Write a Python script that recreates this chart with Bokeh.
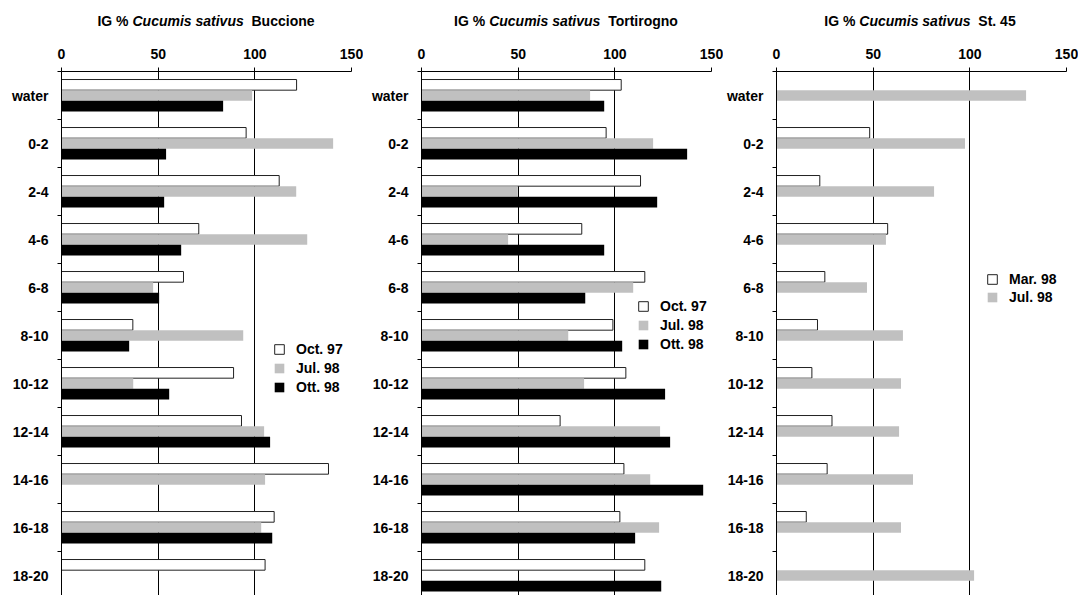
from bokeh.plotting import figure
from bokeh.models import ColumnDataSource, Range1d, FixedTicker, Legend, LegendItem, Div
from bokeh.layouts import row, column
from bokeh.embed import file_html
from bokeh.resources import INLINE

NaN = float("nan")

categories = ["water", "0-2", "2-4", "4-6", "6-8", "8-10", "10-12", "12-14", "14-16", "16-18", "18-20"]

# Buccione
bucc_oct97 = [121.6, 95.5, 112.6, 71.0, 63.1, 36.9, 89.0, 93.1, 138.1, 110.0, 105.3]
bucc_jul98 = [98.6, 140.5, 121.4, 127.1, 47.4, 94.0, 37.1, 104.8, 105.3, 103.3, NaN]
bucc_ott98 = [83.6, 54.1, 53.1, 61.9, 50.5, 35.0, 55.7, 107.9, NaN, 109.0, NaN]

# Tortirogno
tort_oct97 = [103.3, 95.5, 113.3, 82.9, 115.5, 99.0, 105.7, 71.7, 104.7, 102.6, 115.5]
tort_jul98 = [87.2, 119.8, 49.8, 44.8, 109.5, 75.9, 84.1, 123.4, 118.3, 122.9, NaN]
tort_ott98 = [94.5, 137.4, 121.9, 94.5, 84.7, 103.8, 126.0, 128.6, 145.7, 110.5, 124.0]

# St. 45
st45_mar98 = [NaN, 48.2, 22.4, 57.5, 25.0, 21.2, 18.3, 28.7, 26.2, 15.4, NaN]
st45_jul98 = [129.1, 97.5, 81.5, 56.6, 46.8, 65.4, 64.4, 63.4, 70.6, 64.4, 102.2]

sites = ["Buccione", "Tortirogno", "St. 45"]
x_ticks = [0, 50, 100, 150]

FONT = "Liberation Sans"
OFFS = [-0.222, 0.0, 0.222]
STYLES = {
    "white": dict(fill_color="white", line_color="#222222", line_width=1),
    "grey": dict(fill_color="#C0C0C0", line_color=None),
    "black": dict(fill_color="black", line_color=None),
}

FRAME_W = 290
FRAME_H = 524
TOP = 33


def make_panel(series, labels, styles, left_border, right_border, legend_loc, spacing):
    p = figure(frame_width=FRAME_W, frame_height=FRAME_H,
               x_range=Range1d(0, 150), y_range=Range1d(-0.5 + FRAME_H / 48.0, -0.5),
               x_axis_location="above", output_backend="svg", toolbar_location=None,
               min_border_left=left_border, min_border_right=right_border,
               min_border_top=TOP, min_border_bottom=0, margin=0)
    p.outline_line_color = None
    p.background_fill_color = "white"
    p.border_fill_color = "white"

    # x axis (top)
    xa = p.xaxis[0]
    xa.ticker = FixedTicker(ticks=x_ticks)
    xa.axis_line_color = "black"
    xa.major_tick_line_color = "black"
    xa.major_tick_out = 4
    xa.major_tick_in = 0
    xa.minor_tick_line_color = None
    xa.major_label_text_font = FONT
    xa.major_label_text_font_style = "bold"
    xa.major_label_text_font_size = "14px"
    xa.major_label_text_color = "black"
    xa.major_label_standoff = 9

    # y axis (categories)
    ya = p.yaxis[0]
    ya.ticker = FixedTicker(ticks=list(range(len(categories))),
                            minor_ticks=[i - 0.5 for i in range(len(categories) + 1)])
    ya.major_label_overrides = {i: c for i, c in enumerate(categories)}
    ya.axis_line_color = "black"
    ya.major_tick_line_color = None
    ya.major_tick_out = 0
    ya.major_tick_in = 0
    ya.minor_tick_line_color = "black"
    ya.minor_tick_out = 4
    ya.minor_tick_in = 0
    ya.major_label_text_font = FONT
    ya.major_label_text_font_style = "bold"
    ya.major_label_text_font_size = "14px"
    ya.major_label_text_color = "black"
    ya.major_label_standoff = 9

    p.xgrid.ticker = FixedTicker(ticks=[50, 100, 150])
    p.xgrid.grid_line_color = "black"
    p.xgrid.grid_line_alpha = 1.0
    p.xgrid.grid_line_width = 1
    p.ygrid.visible = False

    items = []
    for k, (vals, lab, st) in enumerate(zip(series, labels, styles)):
        ys = [i + OFFS[k] for i in range(len(categories))]
        src = ColumnDataSource(dict(y=ys, right=vals))
        r = p.hbar(y="y", left=0, right="right", height=0.222, source=src, **STYLES[st])
        items.append(LegendItem(label=lab, renderers=[r]))

    leg = Legend(items=items, location=legend_loc, orientation="vertical",
                 glyph_width=12, glyph_height=12, label_height=12, spacing=spacing,
                 padding=0, margin=0, label_standoff=11,
                 border_line_color=None, background_fill_alpha=0,
                 label_text_font=FONT, label_text_font_style="bold",
                 label_text_font_size="14px", label_text_color="black")
    p.add_layout(leg)
    return p


def make_title(site, left_border, width):
    html = ('<div style="width:290px;margin-left:' + str(left_border) + 'px;padding-top:13px;'
            'text-align:center;font-family:\'Liberation Sans\',Arial,sans-serif;font-weight:bold;'
            'font-size:14px;line-height:16px;color:black;white-space:nowrap;">'
            'IG % <i>Cucumis sativus</i>&nbsp; ' + site + '</div>')
    return Div(text=html, width=width, height=38, margin=0)


L = [61, 58, 52]
R = [12, 12, 13]
W = [L[i] + FRAME_W + R[i] for i in range(3)]

p1 = make_panel([bucc_oct97, bucc_jul98, bucc_ott98], ["Oct. 97", "Jul. 98", "Ott. 98"],
                ["white", "grey", "black"], L[0], R[0], (212, 200), 3)
p2 = make_panel([tort_oct97, tort_jul98, tort_ott98], ["Oct. 97", "Jul. 98", "Ott. 98"],
                ["white", "grey", "black"], L[1], R[1], (216, 243), 3)
p3 = make_panel([st45_mar98, st45_jul98], ["Mar. 98", "Jul. 98"],
                ["white", "grey"], L[2], R[2], (210, 290), 2)

layout = row(column(make_title(sites[0], L[0], W[0]), p1, spacing=0, margin=0),
             column(make_title(sites[1], L[1], W[1]), p2, spacing=0, margin=0),
             column(make_title(sites[2], L[2], W[2]), p3, spacing=0, margin=0),
             spacing=0, margin=0)

open("out.html", "w").write(file_html(layout, INLINE))
